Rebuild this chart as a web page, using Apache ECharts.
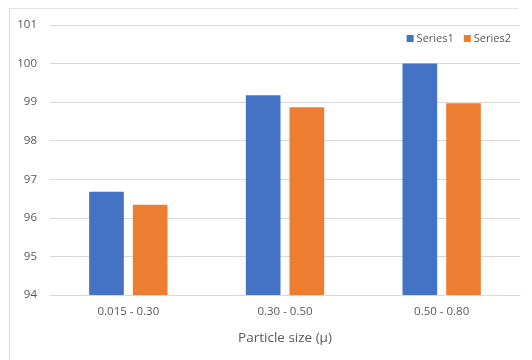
<!DOCTYPE html>
<html>
<head>
<meta charset="utf-8">
<script src="https://cdn.jsdelivr.net/npm/echarts@6/dist/echarts.min.js"></script>
<style>
  html, body { margin: 0; padding: 0; background: #fff; }
  #chart { width: 532px; height: 360px; }
</style>
</head>
<body>
<div id="chart"></div>
<script>
// data
var categories = ['0.015 - 0.30', '0.30 - 0.50', '0.50 - 0.80'];
var series1 = [96.68, 99.18, 100.0];
var series2 = [96.34, 98.87, 98.97];

var chart = echarts.init(document.getElementById('chart'));
var labelColor = '#595959';
var font = '"Open Sans", "Noto Sans", sans-serif';

chart.setOption({
  animation: false,
  textStyle: { fontFamily: font },
  grid: { left: 50, right: 12, top: 25, bottom: 65 },
  legend: {
    top: 28,
    right: 16,
    itemWidth: 7,
    itemHeight: 7,
    itemGap: 10,
    icon: 'rect',
    textStyle: { color: labelColor, fontSize: 11, fontFamily: font, padding: [0, 0, 0, -2] },
    data: ['Series1', 'Series2']
  },
  xAxis: {
    type: 'category',
    data: categories,
    name: 'Particle size (\u03bc)',
    nameLocation: 'middle',
    nameGap: 36,
    nameTextStyle: { color: labelColor, fontSize: 13.5, fontFamily: font },
    axisLine: { lineStyle: { color: '#d9d9d9' } },
    axisTick: { show: false },
    axisLabel: { color: labelColor, fontSize: 11.5, margin: 11, fontFamily: font }
  },
  yAxis: {
    type: 'value',
    min: 94,
    max: 101,
    interval: 1,
    axisLine: { show: false },
    axisTick: { show: false },
    axisLabel: { color: labelColor, fontSize: 11.5, margin: 13, fontFamily: font },
    splitLine: { lineStyle: { color: '#d9d9d9' } }
  },
  series: [
    {
      name: 'Series1',
      type: 'bar',
      data: series1,
      itemStyle: { color: '#4472C4' },
      barGap: '26%',
      barCategoryGap: '50%'
    },
    {
      name: 'Series2',
      type: 'bar',
      data: series2,
      itemStyle: { color: '#ED7D31' }
    }
  ],
  graphic: [
    {
      type: 'line',
      shape: { x1: 9, y1: 8.5, x2: 518, y2: 8.5 },
      style: { stroke: '#e3e3e3', lineWidth: 1 }
    },
    {
      type: 'line',
      shape: { x1: 9.5, y1: 8, x2: 9.5, y2: 360 },
      style: { stroke: '#d9d9d9', lineWidth: 1 }
    }
  ]
});
</script>
</body>
</html>
